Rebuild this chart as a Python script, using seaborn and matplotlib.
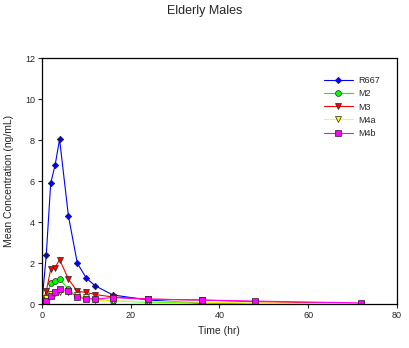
import matplotlib
matplotlib.use("Agg")
import matplotlib.pyplot as plt
import seaborn as sns
import pandas as pd

time = [0, 1, 2, 3, 4, 6, 8, 10, 12, 16, 24, 36, 48, 72]
r667 = [0.0, 2.4, 5.9, 6.8, 8.05, 4.3, 2.0, 1.28, 0.9, 0.45, 0.2, 0.05, None, None]
m2 = [0.0, 0.35, 1.02, 1.15, 1.24, 0.72, 0.4, 0.3, 0.25, 0.15, 0.1, 0.05, 0.02, None]
m3 = [0.0, 0.63, 1.7, 1.79, 2.18, 1.22, 0.63, 0.57, 0.47, 0.35, 0.25, 0.2, 0.12, 0.03]
m4a = [0.0, 0.3, 0.5, 0.55, 0.6, 0.6, 0.45, 0.35, 0.2, 0.15, 0.12, 0.1, 0.05, 0.02]
m4b = [0.05, 0.16, 0.4, 0.57, 0.72, 0.66, 0.33, 0.27, 0.25, 0.32, 0.24, 0.2, 0.15, 0.06]

names = ["R667", "M2", "M3", "M4a", "M4b"]
series = [r667, m2, m3, m4a, m4b]
colors = ["#0000ff", "#00ff00", "#ff0000", "#ffff00", "#ff00ff"]
markers = ["D", "o", "v", "v", "s"]
msizes = [3.3, 4.2, 5, 5, 5]

rows = []
for n, s in zip(names, series):
    for t, v in zip(time, s):
        if v is not None:
            rows.append({"Time": t, "Conc": v, "Analyte": n})
df = pd.DataFrame(rows)

sns.set_style("white")
plt.rcParams['font.family'] = ['Liberation Sans', 'DejaVu Sans']

fig = plt.figure(figsize=(4.1, 3.48), dpi=100)
ax = fig.add_axes([0.102, 0.126, 0.866, 0.706])

for n, c, m, ms in zip(names, colors, markers, msizes):
    sub = df[df["Analyte"] == n]
    sns.lineplot(data=sub, x="Time", y="Conc", ax=ax, color=c, marker=m,
                 markersize=ms, markeredgecolor="#222222", markeredgewidth=0.5,
                 linewidth=0.8, label=n, estimator=None, sort=False)

ax.set_xlim(0, 80)
ax.set_ylim(0, 12)
ax.set_xticks([0, 20, 40, 60, 80])
ax.set_yticks([0, 2, 4, 6, 8, 10, 12])
ax.tick_params(axis="both", direction="out", length=3, width=0.8, labelsize=6.5,
               bottom=True, left=True, pad=2)
for sp in ax.spines.values():
    sp.set_color("black")
    sp.set_linewidth(0.9)
ax.set_xlabel("Time (hr)", fontsize=7.5, labelpad=4)
ax.set_ylabel("Mean Concentration (ng/mL)", fontsize=7.5, labelpad=8)
fig.suptitle("Elderly Males", fontsize=9, y=0.985)

leg = ax.legend(loc="upper right", bbox_to_anchor=(0.975, 0.96), frameon=False,
                fontsize=6.5, handlelength=3.2, labelspacing=0.45, handletextpad=0.6)

fig.savefig("out.png", dpi=100)
